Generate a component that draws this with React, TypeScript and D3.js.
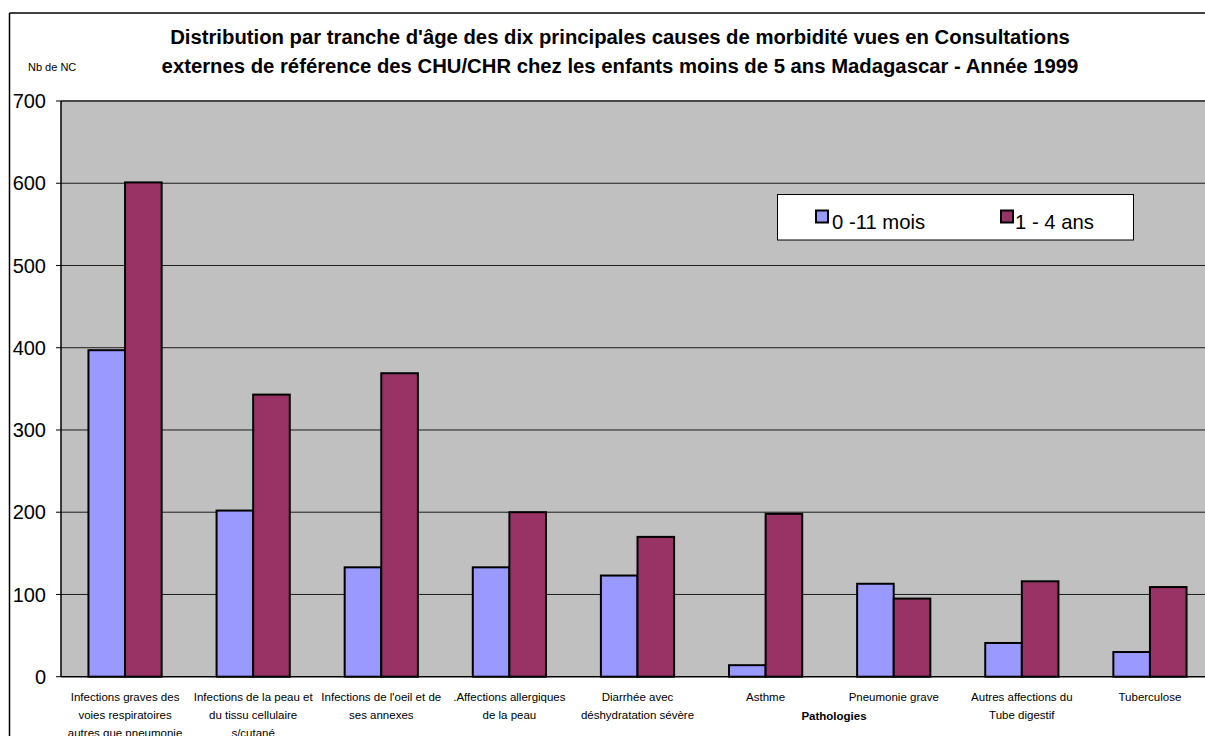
import React from "react";
import * as d3 from "d3";

const categories = [
  ["Infections graves des", "voies respiratoires", "autres que pneumonie"],
  ["Infections de la peau et", "du tissu cellulaire", "s/cutané"],
  ["Infections de l'oeil et de", "ses annexes"],
  [".Affections allergiques", "de la peau"],
  ["Diarrhée avec", "déshydratation sévère"],
  ["Asthme"],
  ["Pneumonie grave"],
  ["Autres affections du", "Tube digestif"],
  ["Tuberculose"],
];
const seriesNames = ["0 -11 mois", "1 - 4 ans"];
const infants = [397, 202, 133, 133, 123, 14, 113, 41, 30];
const children = [601, 343, 369, 200, 170, 198, 95, 116, 109];
const yTicks = [0, 100, 200, 300, 400, 500, 600, 700];
const titleLines = [
  "Distribution par tranche d'âge des dix principales causes de morbidité vues en Consultations",
  "externes de référence des CHU/CHR chez les enfants moins de 5 ans Madagascar - Année 1999",
];
const colors = ["#9999FF", "#993366"];

export default function App() {
  const W = 1205, H = 736;
  const left = 61, right = 1214, top = 101, bottom = 676.7;
  const keys = categories.map((_, i) => String(i));
  const x = d3.scaleBand().domain(keys).range([left, right]).padding(0);
  const xs = d3.scaleBand().domain(["0", "1"]).range([0, x.bandwidth()]).paddingInner(0).paddingOuter(0.75);
  const y = d3.scaleLinear().domain([0, 700]).range([bottom, top]);
  const series = [infants, children];
  const font = "Arial, 'Liberation Sans', sans-serif";

  return (
    <svg width={W} height={H} style={{ position: "absolute", left: 0, top: 0 }} fontFamily={font}>
      <rect x={0} y={0} width={W} height={H} fill="#fff" />
      {/* chart outer border */}
      <line x1={9.5} y1={13} x2={W} y2={13} stroke="#000" strokeWidth={1.5} />
      <line x1={9.5} y1={13} x2={9.5} y2={H} stroke="#000" strokeWidth={1.5} />
      {/* title */}
      {titleLines.map((t, i) => (
        <text key={i} x={620} y={37 + i * 29} dy="0.36em" textAnchor="middle" fontSize={20.3} fontWeight="bold" fill="#000">{t}</text>
      ))}
      <text x={28} y={67} dy="0.36em" fontSize={11} fill="#000">Nb de NC</text>
      {/* plot area */}
      <rect x={left} y={top} width={right - left} height={bottom - top} fill="#C0C0C0" />
      <line x1={left} y1={top} x2={right} y2={top} stroke="#808080" strokeWidth={2} />
      {yTicks.map((t) => (
        <g key={t}>
          {t > 0 && <line x1={left} x2={right} y1={y(t)} y2={y(t)} stroke="#000" strokeWidth={1} opacity={0.85} />}
          <line x1={left - 5} x2={left} y1={y(t)} y2={y(t)} stroke="#000" strokeWidth={1} />
          <text x={46} y={y(t)} dy="0.36em" textAnchor="end" fontSize={20} fill="#000">{t}</text>
        </g>
      ))}
      {/* bars */}
      {keys.map((k, i) => (
        <g key={k} transform={`translate(${x(k)},0)`}>
          {series.map((s, j) => (
            <rect key={j} x={xs(String(j))} y={y(s[i])} width={xs.bandwidth()} height={bottom - y(s[i])}
              fill={colors[j]} stroke="#000" strokeWidth={2} />
          ))}
        </g>
      ))}
      {/* axes lines */}
      <line x1={left} y1={top} x2={left} y2={bottom} stroke="#000" strokeWidth={1.5} />
      <line x1={left} y1={bottom} x2={right} y2={bottom} stroke="#000" strokeWidth={1.5} />
      {/* category labels */}
      {categories.map((lines, i) => (
        <text key={i} textAnchor="middle" fontSize={11.5} fill="#000">
          {lines.map((l, li) => (
            <tspan key={li} x={(x(keys[i]) as number) + x.bandwidth() / 2} y={701 + li * 18}>{l}</tspan>
          ))}
        </text>
      ))}
      <text x={834} y={720} textAnchor="middle" fontSize={11.5} fontWeight="bold" fill="#000">Pathologies</text>
      {/* legend */}
      <rect x={777.5} y={194.5} width={356} height={45.5} fill="#fff" stroke="#000" strokeWidth={1} />
      {seriesNames.map((n, j) => {
        const lx = j === 0 ? 816 : 1001;
        return (
          <g key={n}>
            <rect x={lx} y={210.5} width={12} height={12} fill={colors[j]} stroke="#000" strokeWidth={2} />
            <text x={j === 0 ? 832 : 1015} y={228.5} fontSize={20.3} fill="#000">{n}</text>
          </g>
        );
      })}
    </svg>
  );
}
